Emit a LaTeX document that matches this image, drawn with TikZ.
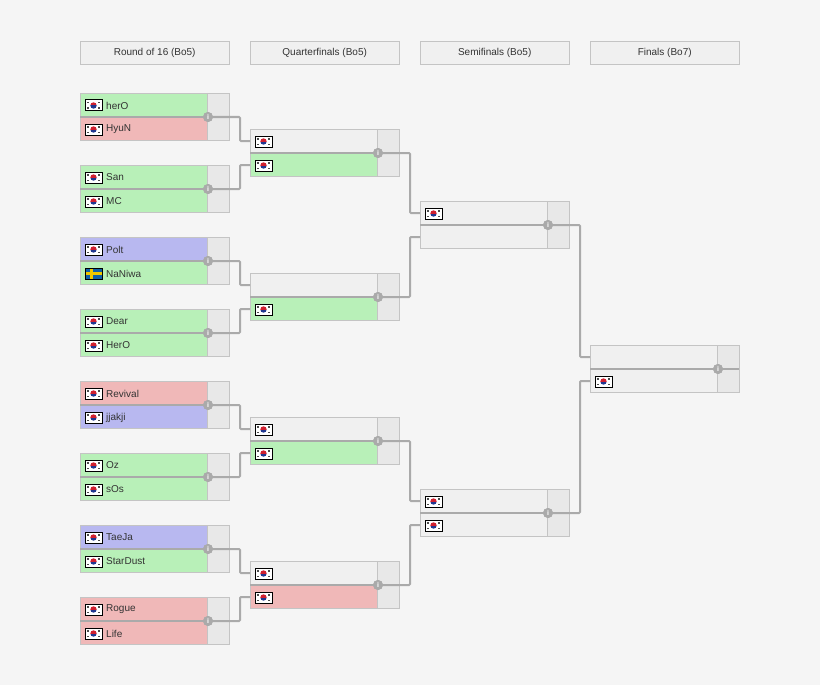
\documentclass[tikz,border=0pt]{standalone}
\usepackage{fontspec}
\setmainfont{Liberation Sans}
\begin{document}
\definecolor{bg}{HTML}{F5F5F5}
\definecolor{gn}{HTML}{B8F0B8}
\definecolor{rd}{HTML}{F0B8B8}
\definecolor{bl}{HTML}{B8B8F0}
\definecolor{gy}{HTML}{F0F0F0}
\definecolor{sc}{HTML}{E8E8E8}
\definecolor{ln}{HTML}{AAAAAA}
\definecolor{bd}{HTML}{C4C4C4}
\definecolor{kr}{HTML}{D02030}
\definecolor{kb}{HTML}{203890}
\definecolor{sw}{HTML}{1060A8}
\definecolor{sy}{HTML}{F0C800}
\begin{tikzpicture}[x=1pt,y=-1pt,
  every node/.style={font=\fontsize{10}{12}\selectfont,text=black!80},
  hdr/.style={draw=bd,fill=gy,minimum width=149pt,minimum height=23pt,inner sep=0pt,anchor=north west},
  conn/.style={draw=ln,line width=2pt},
  info/.style={circle,fill=ln,inner sep=0pt,minimum size=10pt,font=\fontsize{7}{7}\bfseries,text=white}]
\fill[bg] (0,0) rectangle (820,685);
\useasboundingbox (0,0) rectangle (820,685);
\node[hdr] (h1) at (80,41) {Round of 16 (Bo5)};
\node[hdr] (h2) at (250,41) {Quarterfinals (Bo5)};
\node[hdr] (h3) at (420,41) {Semifinals (Bo5)};
\node[hdr] (h4) at (590,41) {Finals (Bo7)};
\newcommand\krflag[2]{\fill[white] (#1,#2) rectangle ++(17,11);
  \begin{scope}
  \clip (#1+8.5,#2+5.5) circle[radius=3.2];
  \fill[kr] (#1,#2) rectangle ++(17,5.5);
  \fill[kb] (#1,#2+5.5) rectangle ++(17,5.5);
  \end{scope}
  \draw[black,line width=1pt] (#1,#2) rectangle ++(17,11);
  \foreach \a/\b in {2/2,13/2,2/7.5,13/7.5}{\fill[black!70] (#1+\a,#2+\b) rectangle ++(2,1.5);}}
\newcommand\seflag[2]{\fill[sw] (#1,#2) rectangle ++(17,11);
  \fill[sy] (#1+5,#2) rectangle ++(2.5,11); \fill[sy] (#1,#2+4.2) rectangle ++(17,2.5);
  \draw[black,line width=1pt] (#1,#2) rectangle ++(17,11);}
\newcommand\match[9]{%
  \fill[#4] (#2,#3) rectangle ++(127,24);
  \fill[#5] (#2,#3+24) rectangle ++(127,24);
  \fill[sc] (#2+127,#3) rectangle ++(22,48);
  \draw[bd] (#2,#3) rectangle ++(149,47);
  \draw[bd] (#2+127,#3) -- ++(0,47);
  \draw[ln,line width=2pt] (#2,#3+24) -- ++(149,0);
  \ifnum#6=1 \krflag{#2+5}{#3+7}\fi
  \ifnum#6=2 \seflag{#2+5}{#3+7}\fi
  \ifnum#7=1 \krflag{#2+5}{#3+31}\fi
  \node[anchor=west,inner sep=0pt] at (#2+26,#3+12.5) {#8};
  \node[anchor=west,inner sep=0pt] at (#2+26,#3+36.5) {#9};
  \node[info] (#1) at (#2+128,#3+24) {i};
  \coordinate (#1a) at (#2,#3+12);
  \coordinate (#1b) at (#2,#3+36);}
\match{r1}{80}{93}{gn}{rd}{1}{1}{herO}{HyuN}
\match{r2}{80}{165}{gn}{gn}{1}{1}{San}{MC}
\match{r3}{80}{237}{bl}{gn}{1}{0}{Polt}{NaNiwa}
\seflag{85}{268}
\match{r4}{80}{309}{gn}{gn}{1}{1}{Dear}{HerO}
\match{r5}{80}{381}{rd}{bl}{1}{1}{Revival}{jjakji}
\match{r6}{80}{453}{gn}{gn}{1}{1}{Oz}{sOs}
\match{r7}{80}{525}{bl}{gn}{1}{1}{TaeJa}{StarDust}
\match{r8}{80}{597}{rd}{rd}{1}{1}{Rogue}{Life}
\match{q1}{250}{129}{gy}{gn}{1}{1}{}{}
\match{q2}{250}{273}{gy}{gn}{0}{1}{}{}
\match{q3}{250}{417}{gy}{gn}{1}{1}{}{}
\match{q4}{250}{561}{gy}{rd}{1}{1}{}{}
\match{s1}{420}{201}{gy}{gy}{1}{0}{}{}
\match{s2}{420}{489}{gy}{gy}{1}{1}{}{}
\match{f1}{590}{345}{gy}{gy}{0}{1}{}{}
\foreach \s/\t/\u/\xx in {r1/q1/a/240,r2/q1/b/240,r3/q2/a/240,r4/q2/b/240,r5/q3/a/240,r6/q3/b/240,r7/q4/a/240,r8/q4/b/240,
  q1/s1/a/410,q2/s1/b/410,q3/s2/a/410,q4/s2/b/410,s1/f1/a/580,s2/f1/b/580}{
  \draw[conn,rounded corners=1pt] (\s.east) -| (\xx,0 |- \t\u) -- (\t\u);
}
\foreach \n in {r1,r2,r3,r4,r5,r6,r7,r8,q1,q2,q3,q4,s1,s2,f1}{\node[info] at (\n) {i};}
\end{tikzpicture}
\end{document}
